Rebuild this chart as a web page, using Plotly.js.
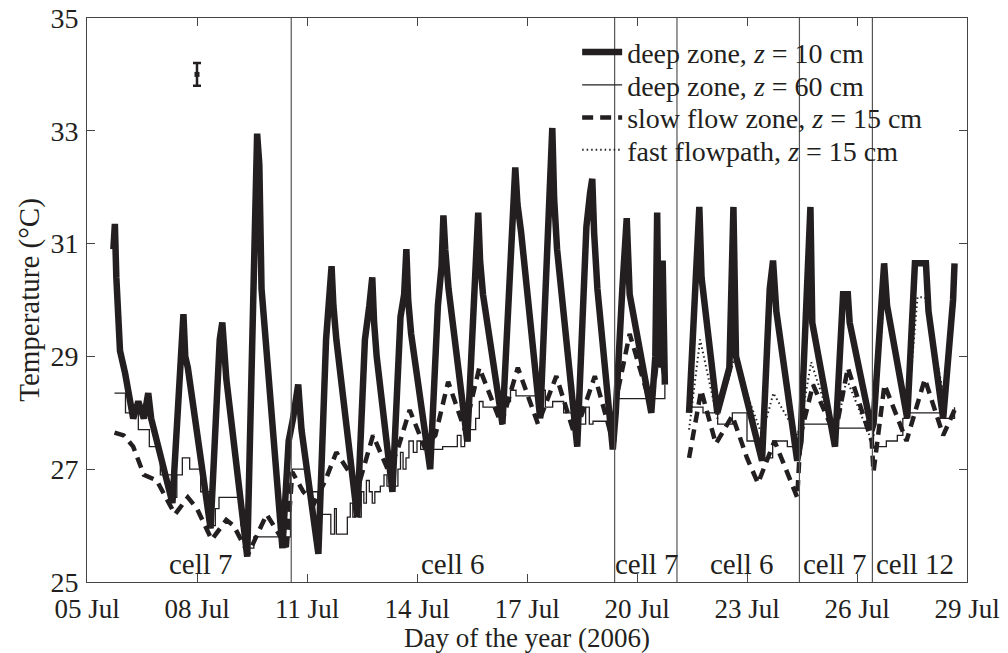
<!DOCTYPE html>
<html>
<head>
<meta charset="utf-8">
<script src="https://cdn.plot.ly/plotly-3.0.1.min.js"></script>
<style>html,body{margin:0;padding:0;background:#fff;}#chart{width:1008px;height:653px;}</style>
</head>
<body>
<div id="chart"></div>
<script>
// x values: day of July 2006 (decimal)
const tickDays = [5, 8, 11, 14, 17, 20, 23, 26, 29];
const tickLabels = ["05 Jul", "08 Jul", "11 Jul", "14 Jul", "17 Jul", "20 Jul", "23 Jul", "26 Jul", "29 Jul"];
const yTicks = [25, 27, 29, 31, 33, 35];

// deep zone, z = 10 cm (thick solid)
const deep10Day = [5.72,5.76,5.80,5.90,6.04,6.15,6.26,6.40,6.55,6.67,6.75,7.33,7.50,7.58,7.63,7.68,7.75,8.37,8.55,8.62,8.69,8.75,8.80,9.37,9.52,9.58,9.64,9.70,9.76,10.33,10.50,
  10.62,10.76,10.85,11.31,11.52,11.60,11.67,11.72,11.80,12.37,12.58,12.70,12.78,12.83,12.90,13.33,13.55,13.65,13.71,13.76,13.84,14.36,14.57,14.67,14.72,14.77,14.86,15.37,15.56,15.63,15.67,15.72,15.80,16.33,16.55,16.64,16.68,16.74,16.84,17.36,17.58,17.66,17.69,17.74,17.82,18.37,18.62,18.72,18.78,18.83,18.92,19.34,
  19.42,19.60,19.66,19.72,19.80,20.39,20.50,20.55,20.60,20.70,20.76,null,
  21.42,21.60,21.66,21.70,21.76,22.19,22.52,22.60,22.63,22.70,23.41,23.62,23.68,23.71,23.80,24.37,
  24.46,24.62,24.70,24.73,24.78,25.40,25.62,25.75,25.80,26.40,
  26.45,26.70,26.74,26.82,27.37,27.58,27.88,27.95,28.35,28.62,28.66];
const deep10Temp = [30.9,31.35,30.4,29.1,28.7,28.2,27.9,28.2,27.9,28.35,27.9,26.4,28.6,29.2,29.75,29.0,28.8,25.95,28.6,29.3,29.6,28.9,28.6,25.45,30.0,31.2,32.95,32.4,30.2,25.6,27.5,
  27.9,28.5,27.7,25.5,29.3,30.0,30.6,29.9,29.3,26.15,29.3,29.9,30.4,29.6,29.0,26.6,29.7,30.1,30.9,30.0,29.4,27.0,29.9,30.6,31.5,30.9,30.2,27.5,30.2,30.6,31.55,30.7,30.1,27.8,30.9,31.6,32.35,31.7,31.2,27.9,31.2,32.0,33.05,31.8,30.9,27.4,31.3,31.9,32.15,31.2,30.2,27.35,
  28.0,30.2,30.9,31.45,30.1,28.0,29.0,31.55,28.8,30.7,28.5,null,
  28.0,30.6,31.65,31.65,30.4,28.0,28.8,30.3,31.65,29.0,27.15,30.2,30.7,30.7,29.8,27.15,
  27.5,29.8,30.6,31.65,29.6,27.4,30.1,30.1,29.6,27.7,
  27.8,30.65,30.65,29.9,27.9,30.65,30.65,29.8,27.9,30.0,30.65];

// deep zone, z = 60 cm (thin solid, stepped)
const deep60Day = [5.75,5.95,6.05,6.40,6.70,7.00,7.33,7.45,7.60,7.80,8.10,8.37,8.50,8.60,9.00,9.20,9.37,9.55,10.30,10.55,
  10.60,10.80,11.00,11.30,11.65,11.75,11.80,11.95,12.10,12.18,12.25,12.32,12.40,12.48,12.55,12.62,12.70,12.78,12.85,13.00,13.10,13.18,13.25,13.32,13.40,13.48,13.55,13.62,13.70,13.78,13.90,14.00,14.10,14.20,14.40,14.70,15.00,15.10,15.20,15.30,15.45,15.60,15.70,15.80,16.10,16.40,16.55,16.70,17.00,17.30,17.40,17.50,17.70,18.00,18.40,18.60,18.70,18.80,19.20,19.38,
  19.42,20.40,20.76,null,
  21.42,21.80,22.20,22.60,23.00,23.40,23.70,24.10,24.37,
  24.46,25.00,25.30,26.40,
  26.45,26.80,27.10,27.25,27.40,28.00,28.35,28.66];
const deep60Temp = [28.35,28.35,28.0,27.7,27.4,26.9,26.5,26.9,27.2,27.0,26.6,26.0,26.3,26.5,26.5,26.0,25.6,25.8,25.8,26.9,
  27.0,27.0,26.6,26.2,25.85,26.3,25.85,25.85,26.15,26.4,26.15,26.4,26.15,26.6,26.4,26.8,26.6,26.4,26.6,26.7,26.9,26.7,27.1,26.9,26.7,27.0,27.3,27.0,27.2,27.5,27.3,27.5,27.35,27.35,27.35,27.4,27.4,27.6,27.4,27.5,27.7,27.9,28.2,28.1,28.1,28.2,28.4,28.3,28.3,28.1,28.4,28.1,28.2,28.0,27.8,28.1,27.8,27.85,27.85,27.5,
  28.25,28.25,28.5,null,
  28.1,28.0,27.8,28.0,27.5,27.2,27.5,27.4,27.4,
  27.8,27.8,27.73,27.73,
  27.4,27.5,27.6,27.9,28.0,28.0,27.9,28.1];

// slow flow zone, z = 15 cm (dashed)
const slowDay = [5.75,6.00,6.26,6.55,6.90,7.20,7.40,7.75,8.00,8.40,8.80,9.00,9.40,9.90,10.20,10.45,
  10.60,10.90,11.20,11.50,11.80,12.20,12.40,12.80,13.20,13.45,13.80,14.20,14.50,14.85,15.30,15.70,16.30,16.75,17.30,17.80,18.30,18.85,19.34,
  19.42,19.80,20.39,20.60,20.76,null,
  21.42,21.75,22.15,22.60,23.00,23.30,23.75,24.37,
  24.46,24.80,25.40,25.75,26.40,
  26.45,26.75,27.35,27.85,28.35,28.66];
const slowTemp = [27.65,27.6,27.4,26.9,26.8,26.45,26.2,26.5,26.3,25.75,26.1,26.0,25.5,26.2,25.9,25.62,
  26.95,26.6,26.4,26.8,27.3,26.9,26.7,27.6,27.0,27.3,28.05,27.4,27.6,28.55,27.7,28.8,27.8,28.8,27.8,28.65,27.6,28.65,27.5,
  28.2,29.4,28.1,29.2,28.6,null,
  27.2,28.4,27.45,27.95,27.2,26.75,27.5,26.5,
  27.6,28.5,27.6,28.8,27.5,
  26.95,28.5,27.5,28.6,27.6,28.05];

// fast flowpath, z = 15 cm (dotted)
const fastDay = [21.42,21.72,22.19,22.65,23.41,23.72,24.37,24.46,24.75,25.40,25.72,26.40,26.45,26.74,27.37,27.65,27.85,28.35,28.66];
const fastTemp = [27.7,29.3,27.9,28.95,27.6,28.35,27.6,27.8,28.9,27.6,28.6,27.5,27.6,30.05,27.9,30.05,30.05,28.35,29.9];

// cell boundaries and labels
const boundaryDays = [10.57, 19.39, 21.09, 24.43, 26.42];
const cellLabels = ["cell 7", "cell 6", "cell 7", "cell 6", "cell 7", "cell 12"];
const cellLabelDays = [8.12, 14.99, 20.26, 22.85, 25.41, 27.59];

// measurement uncertainty marker
const errDay = [8];
const errTemp = [34];
const errSize = [0.2];

const ink = '#231f20';
const fontFam = '"Liberation Serif", "Times New Roman", serif';
const fs = 29;
const legFs = 28;

const traces = [
  {x: fastDay, y: fastTemp, mode: 'lines', name: 'fast flowpath, <i>z</i> = 15 cm', legend: 'legend4',
   line: {color: ink, width: 2, dash: '1.5px,3px'}, connectgaps: false},
  {x: slowDay, y: slowTemp, mode: 'lines', name: 'slow flow zone, <i>z</i> = 15 cm', legend: 'legend3',
   line: {color: ink, width: 4.5, dash: '11px,7px'}, connectgaps: false},
  {x: deep60Day, y: deep60Temp, mode: 'lines', name: 'deep zone, <i>z</i> = 60 cm', legend: 'legend2',
   line: {color: ink, width: 1.3, shape: 'hv'}, connectgaps: false},
  {x: deep10Day, y: deep10Temp, mode: 'lines', name: 'deep zone, <i>z</i> = 10 cm', legend: 'legend',
   line: {color: ink, width: 6.5}, connectgaps: false},
  {x: errDay, y: errTemp, mode: 'markers', showlegend: false,
   marker: {color: ink, size: 5, symbol: 'square'},
   error_y: {type: 'data', array: errSize, visible: true, color: ink, thickness: 2.5, width: 4}}
];

const shapes = boundaryDays.map(d => ({
  type: 'line', xref: 'x', yref: 'paper', x0: d, x1: d, y0: 0, y1: 1,
  line: {color: '#555', width: 1.2}
}));

const annotations = cellLabels.map((t, i) => ({
  x: cellLabelDays[i], y: 25.0, xref: 'x', yref: 'y', text: t, showarrow: false,
  yanchor: 'bottom', font: {family: fontFam, size: fs, color: ink}
}));

function leg(yFrac) {
  return {x: 0.557, y: yFrac, xanchor: 'left', yanchor: 'middle',
    bgcolor: 'rgba(0,0,0,0)', borderwidth: 0,
    font: {family: fontFam, size: legFs, color: ink}, itemwidth: 40};
}

const layout = {
  width: 1008, height: 653,
  margin: {l: 87, r: 41, t: 18, b: 71},
  paper_bgcolor: '#fff', plot_bgcolor: '#fff',
  font: {family: fontFam, size: fs, color: ink},
  showlegend: true,
  legend: leg(0.939),
  legend2: leg(0.881),
  legend3: leg(0.823),
  legend4: leg(0.766),
  xaxis: {range: [5, 29], tickvals: tickDays, ticktext: tickLabels,
    ticks: 'inside', ticklen: 8, tickcolor: '#444', showline: true, linecolor: '#444', linewidth: 1,
    mirror: 'ticks', showgrid: false, zeroline: false, ticklabelstandoff: 3,
    tickfont: {family: fontFam, size: 27, color: ink},
    title: {text: 'Day of the year (2006)', font: {family: fontFam, size: 27, color: ink}}},
  yaxis: {range: [25, 35], tickvals: yTicks,
    ticks: 'inside', ticklen: 8, tickcolor: '#444', showline: true, linecolor: '#444', linewidth: 1,
    mirror: 'ticks', showgrid: false, zeroline: false, ticklabelstandoff: 2,
    tickfont: {family: fontFam, size: 28, color: ink},
    title: {text: 'Temperature (°C)', font: {family: fontFam, size: fs, color: ink}, standoff: 2}},
  shapes: shapes,
  annotations: annotations
};

Plotly.newPlot('chart', traces, layout, {staticPlot: true, displayModeBar: false});
</script>
</body>
</html>
